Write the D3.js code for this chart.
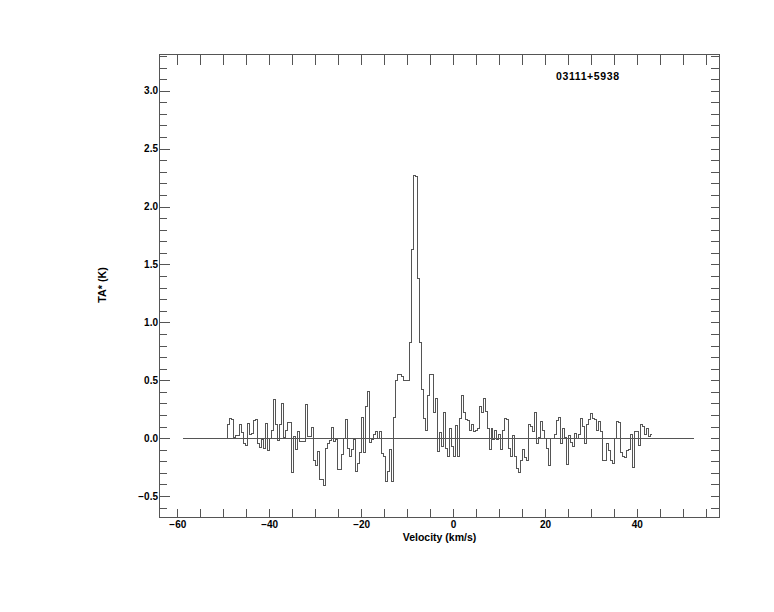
<!DOCTYPE html>
<html><head><meta charset="utf-8">
<script src="https://cdn.jsdelivr.net/npm/d3@7"></script>
<style>
body{margin:0;background:#fff}
text{font-family:"Liberation Sans",Arial,Helvetica,sans-serif;font-weight:bold;fill:#000}
</style></head>
<body><svg id="c" width="774" height="612"></svg>
<script>
// ---- data ----
const sourceName = "03111+5938";
const xTitle = "Velocity (km/s)";
const yTitle = "TA* (K)";
const velStart = -49.35;      // centre of first channel (km/s)
const velStep = 0.4348;       // channel width (km/s)
const ta = [0.0,
 0.12,0.17,0.165,0.01,0.02,0.02,0.12,0.05,-0.045,-0.065,
 0.13,0.03,0.04,0.15,0.165,-0.045,-0.08,-0.01,-0.085,0.125,
 -0.105,0.0,0.07,0.335,0.115,-0.02,0.12,0.30,0.01,0.07,
 0.135,0.135,-0.30,0.015,-0.10,0.06,-0.03,-0.03,-0.03,0.29,
 0.015,0.015,0.095,-0.19,-0.24,-0.115,-0.36,-0.36,-0.41,-0.09,
 -0.05,-0.02,0.09,-0.03,-0.01,-0.27,-0.27,-0.14,0.0,0.16,
 -0.09,-0.16,-0.10,-0.01,-0.29,-0.22,-0.12,0.18,-0.12,0.27,
 0.40,-0.04,-0.01,0.03,0.06,0.0,0.06,-0.13,-0.16,-0.37,
 -0.29,-0.10,-0.37,0.18,0.50,0.55,0.55,0.53,0.50,0.50,
 0.50,0.83,1.63,2.27,2.26,1.38,0.83,0.42,0.17,0.07,
 0.37,0.55,0.55,0.22,0.34,-0.115,0.05,-0.07,0.22,-0.09,
 -0.16,0.08,-0.07,-0.16,0.11,-0.16,0.17,0.365,0.22,0.16,
 0.155,0.07,0.115,0.06,0.07,0.08,0.27,0.22,0.345,0.23,
 0.08,-0.10,0.08,-0.01,0.07,-0.01,0.03,-0.10,0.07,0.17,
 0.16,-0.09,-0.16,0.02,-0.16,-0.26,-0.30,-0.19,-0.10,-0.17,
 -0.19,0.12,0.10,0.06,0.22,-0.05,0.01,0.14,0.066,0.0,
 -0.09,-0.24,0.0,0.0,0.03,0.15,0.18,-0.05,0.08,0.005,
 -0.23,0.02,-0.04,-0.07,0.04,0.0,0.035,0.17,0.10,-0.05,
 0.115,0.16,0.21,0.17,0.16,0.066,0.14,0.06,-0.19,-0.19,
 -0.05,-0.11,-0.19,-0.22,0.0,0.14,0.135,-0.12,-0.16,-0.17,
 -0.11,-0.10,0.03,-0.25,0.06,0.06,-0.06,0.12,0.10,0.03,
 0.08,0.015,0.03];
const baselineRange = [-58.83, 52.39];
const xDomain = [-63.87, 57.98];
const yDomain = [-0.685, 3.313];
const xTicks = [-60,-55,-50,-45,-40,-35,-30,-25,-20,-15,-10,-5,0,5,10,15,20,25,30,35,40,45,50,55];
const xLabelTicks = [-60,-40,-20,0,20,40];
const yLabelTicks = [-0.5,0.0,0.5,1.0,1.5,2.0,2.5,3.0];
const yMinorTicks = [-0.6,-0.4,-0.3,-0.2,-0.1,0.1,0.2,0.3,0.4,0.6,0.7,0.8,0.9,1.1,1.2,1.3,1.4,1.6,1.7,1.8,1.9,2.1,2.2,2.3,2.4,2.6,2.7,2.8,2.9,3.1,3.2,3.3];
const yAllTicks = yLabelTicks.concat(yMinorTicks);

// ---- layout ----
const L = 159.5, R = 719.5, T = 54.5, B = 517.5;
const lineColor = "#555";
const svg = d3.select("#c");
const x = d3.scaleLinear().domain(xDomain).range([L, R]);
const y = d3.scaleLinear().domain(yDomain).range([B, T]);

function styleAxis(g){
  g.select(".domain").remove();
  g.selectAll(".tick line").attr("stroke", lineColor).attr("shape-rendering","crispEdges");
  g.selectAll(".tick text").attr("font-family",null).attr("font-size",null)
   .style("font-size","10px").style("font-weight","bold");
}

// bottom axis
svg.append("g").attr("transform",`translate(0,${B})`)
  .call(d3.axisBottom(x).tickValues(xTicks).tickSize(-9).tickPadding(3.5)
    .tickFormat(d => xLabelTicks.includes(d) ? d3.format("d")(d) : ""))
  .call(styleAxis);
// top axis
svg.append("g").attr("transform",`translate(0,${T})`)
  .call(d3.axisTop(x).tickValues(xTicks).tickSize(-10).tickFormat(""))
  .call(styleAxis);
// left axis: minor then major
svg.append("g").attr("transform",`translate(${L},0)`)
  .call(d3.axisLeft(y).tickValues(yMinorTicks).tickSize(-7).tickFormat(""))
  .call(styleAxis);
svg.append("g").attr("transform",`translate(${L},0)`)
  .call(d3.axisLeft(y).tickValues(yLabelTicks).tickSize(-10.7).tickPadding(1.5)
    .tickFormat(d3.format(".1f")))
  .call(styleAxis);
// right axis
svg.append("g").attr("transform",`translate(${R},0)`)
  .call(d3.axisRight(y).tickValues(yAllTicks).tickSize(-9).tickFormat(""))
  .call(styleAxis);

// frame
svg.append("rect").attr("x",L).attr("y",T).attr("width",R-L).attr("height",B-T)
  .attr("fill","none").attr("stroke",lineColor).attr("shape-rendering","crispEdges");

// zero baseline
svg.append("line")
  .attr("x1",x(baselineRange[0])).attr("x2",x(baselineRange[1]))
  .attr("y1",Math.round(y(0))+0.5).attr("y2",Math.round(y(0))+0.5)
  .attr("stroke",lineColor).attr("shape-rendering","crispEdges");

// spectrum (histogram steps)
const pts = ta.map((v,i) => [velStart + i*velStep, v]);
const line = d3.line().x(d => x(d[0])).y(d => y(d[1])).curve(d3.curveStep);
svg.append("path").attr("d", line(pts)).attr("fill","none")
  .attr("stroke",lineColor).attr("stroke-width",1).attr("shape-rendering","crispEdges");

// titles
svg.append("text").attr("x",(L+R)/2).attr("y",540.5).attr("text-anchor","middle")
  .style("font-size","10.5px").text(xTitle);
svg.append("text").attr("transform","translate(106,285) rotate(-90)").attr("text-anchor","middle")
  .style("font-size","10.7px").text(yTitle);
svg.append("text").attr("x",556).attr("y",79.5).style("font-size","10.5px")
  .attr("textLength",63).attr("lengthAdjust","spacing").text(sourceName);
</script></body></html>
